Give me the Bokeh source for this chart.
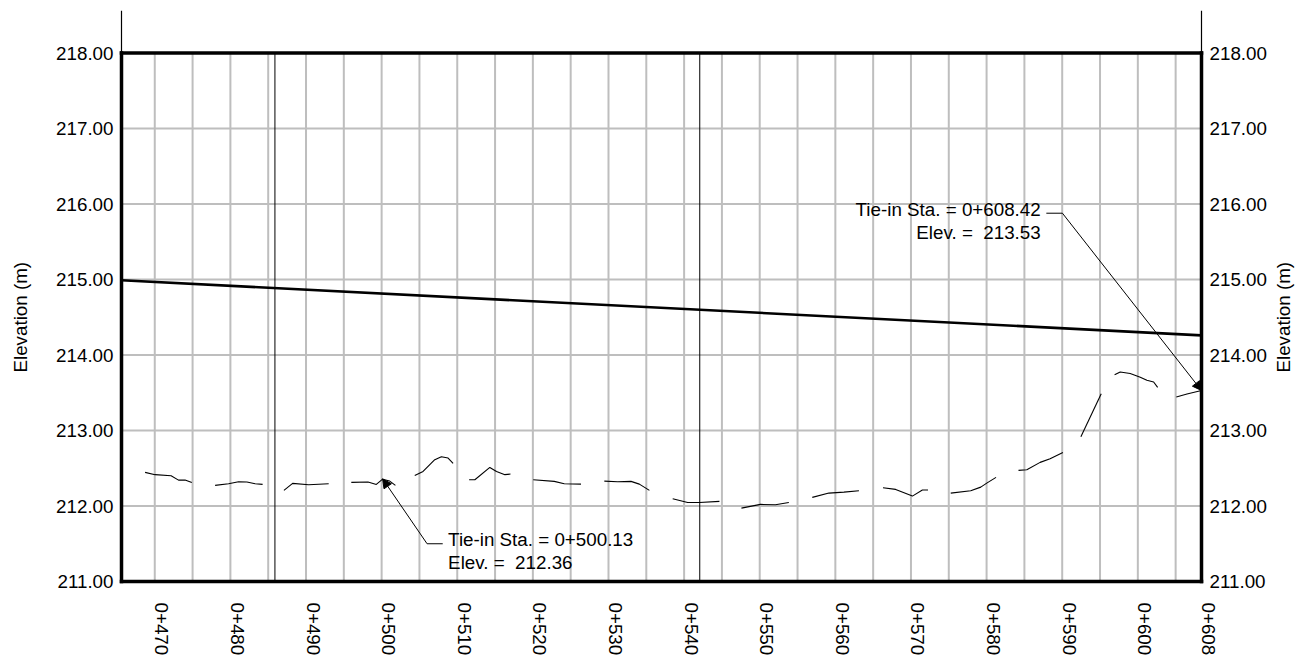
import math
from bokeh.plotting import figure
from bokeh.models import Range1d, FixedTicker, LinearAxis, Arrow, NormalHead
from bokeh.core.properties import value
from bokeh.embed import file_html
from bokeh.resources import INLINE

# ---------------- data ----------------
view_start = 465.60
view_end = 608.42
elev_min = 211.0
elev_max = 218.0

station_ticks = [470, 480, 490, 500, 510, 520, 530, 540, 550, 560, 570, 580, 590, 600, 608.42]
station_tick_labels = ["0+470", "0+480", "0+490", "0+500", "0+510", "0+520", "0+530",
                       "0+540", "0+550", "0+560", "0+570", "0+580", "0+590", "0+600", "0+608"]
elev_ticks = [211, 212, 213, 214, 215, 216, 217, 218]
elev_tick_labels = ["211.00", "212.00", "213.00", "214.00", "215.00", "216.00", "217.00", "218.00"]
grid_stations = [470, 475, 480, 485, 490, 495, 500, 505, 510, 515, 520, 525, 530, 535,
                 540, 545, 550, 555, 560, 565, 570, 575, 580, 585, 590, 595, 600, 605]
marker_stations = [485.89, 542.07]

design_sta = [465.60, 608.42]
design_elev = [214.99, 214.26]

# existing ground profile, as the visible pieces of its dashed line
ground_sta = [
    [468.72, 470.04, 472.16, 473.14, 474.01, 474.90],
    [477.98, 479.76, 481.08, 482.18, 483.28, 484.26],
    [487.08, 488.23, 490.35, 493.00],
    [495.99, 498.20, 499.30, 500.13, 501.07, 501.82],
    [504.38, 505.48, 507.03, 507.90, 508.79, 509.45],
    [511.57, 512.33, 514.31, 515.19, 516.30, 517.04],
    [520.05, 522.83, 524.15, 526.36],
    [529.45, 531.21, 532.98, 534.08, 535.41],
    [538.49, 540.47, 542.02, 544.67],
    [547.58, 550.10, 552.08, 553.85],
    [556.95, 559.15, 561.13, 563.12],
    [566.30, 567.98, 570.19, 571.51, 572.26],
    [575.26, 577.90, 579.23, 580.02, 581.25],
    [584.22, 585.32, 587.08, 588.40, 590.09],
    [592.47, 595.16],
    [596.93, 597.67, 598.99, 600.32, 601.20, 602.09, 602.62],
    [605.09, 606.50, 608.42],
]
ground_elev = [
    [212.445, 212.415, 212.400, 212.343, 212.343, 212.310],
    [212.273, 212.295, 212.322, 212.317, 212.295, 212.286],
    [212.207, 212.300, 212.282, 212.295],
    [212.313, 212.317, 212.286, 212.355, 212.330, 212.273],
    [212.405, 212.458, 212.613, 212.653, 212.635, 212.565],
    [212.348, 212.348, 212.511, 212.458, 212.415, 212.423],
    [212.348, 212.326, 212.295, 212.290],
    [212.330, 212.322, 212.326, 212.290, 212.207],
    [212.097, 212.047, 212.047, 212.061],
    [211.972, 212.021, 212.017, 212.047],
    [212.114, 212.171, 212.184, 212.203],
    [212.242, 212.220, 212.131, 212.211, 212.211],
    [212.171, 212.203, 212.250, 212.303, 212.379],
    [212.472, 212.481, 212.578, 212.627, 212.710],
    [212.918, 213.488],
    [213.740, 213.775, 213.754, 213.705, 213.665, 213.642, 213.572],
    [213.443, 213.483, 213.530],
]

tie_in_sta = [500.13, 608.42]
tie_in_elev = [212.36, 213.53]
tie_in_sta_labels = ["0+500.13", "0+608.42"]
tie_in_elev_labels = ["212.36", "213.53"]

# ---------------- layout / styling ----------------
FONT = "Liberation Sans"
FS = "18.8px"
GRID = "#bebebe"
W, H = 1297, 660
VIEW_LEFT_PX = 121          # page x of the view's left edge
VIEW_W_PX = 1080            # pixel width of the profile view
VIEW_TOP_PX = 52.5          # page y of elevation 218
PX_PER_ELEV = 75.5
TOP_BORDER, BOTTOM_BORDER = 10, 67

px_per_m = VIEW_W_PX / (view_end - view_start)
frame_start = view_start - VIEW_LEFT_PX / px_per_m
frame_end = view_start + (W - VIEW_LEFT_PX) / px_per_m
frame_h = H - TOP_BORDER - BOTTOM_BORDER
y_top = elev_max + (VIEW_TOP_PX - TOP_BORDER) / PX_PER_ELEV
y_bottom = y_top - frame_h / PX_PER_ELEV
label_shift = 7 / px_per_m

p = figure(width=W, height=H,
           x_range=Range1d(frame_start, frame_end),
           y_range=Range1d(y_bottom, y_top),
           x_axis_location=None, y_axis_location=None,
           output_backend="svg", toolbar_location=None,
           min_border_left=0, min_border_right=0,
           min_border_top=TOP_BORDER, min_border_bottom=BOTTOM_BORDER)
p.outline_line_color = None
p.background_fill_color = "white"
p.border_fill_color = "white"
p.xgrid.visible = False
p.ygrid.visible = False

# bottom station labels (own range, a few pixels right of each line)
p.extra_x_ranges = {"lbl": Range1d(frame_start - label_shift, frame_end - label_shift)}
xl = LinearAxis(x_range_name="lbl")
xl.ticker = FixedTicker(ticks=station_ticks)
xl.major_label_overrides = {t: s for t, s in zip(station_ticks, station_tick_labels)}
xl.bounds = (view_start, view_end)
xl.major_label_orientation = "vertical"
xl.axis_line_color = None
xl.major_tick_line_color = None
xl.minor_tick_line_color = None
xl.major_tick_out = 0
xl.major_tick_in = 0
xl.major_label_standoff = 9
xl.major_label_text_font = FONT
xl.major_label_text_font_size = FS
xl.major_label_text_color = "black"
p.add_layout(xl, "below")

# grid lines, limited to the profile view
p.segment(x0=[view_start] * len(elev_ticks), y0=elev_ticks,
          x1=[view_end] * len(elev_ticks), y1=elev_ticks,
          line_color=GRID, line_width=2)
p.segment(x0=grid_stations, y0=[elev_min] * len(grid_stations),
          x1=grid_stations, y1=[elev_max] * len(grid_stations),
          line_color=GRID, line_width=2)

# thin extensions above the view
p.segment(x0=[view_start, view_end], y0=[elev_max, elev_max],
          x1=[view_start, view_end], y1=[y_top, y_top],
          line_color="black", line_width=1.2)

# view border
p.segment(x0=[view_start, view_end, view_start, view_start],
          y0=[elev_min, elev_min, elev_max, elev_min],
          x1=[view_start, view_end, view_end, view_end],
          y1=[elev_max, elev_max, elev_max, elev_min],
          line_color="black", line_width=3.5, line_cap="square")

# elevation labels, both sides, and titles
lab_kw = dict(text_font=value(FONT), text_font_size=FS, text_color="black",
              text_baseline="middle")
p.text(x=[view_start] * len(elev_ticks), y=elev_ticks, text=elev_tick_labels,
       x_offset=-8, text_align="right", **lab_kw)
p.text(x=[view_end] * len(elev_ticks), y=elev_ticks, text=elev_tick_labels,
       x_offset=8, text_align="left", **lab_kw)
mid_elev = (elev_min + elev_max) / 2
p.text(x=[view_start], y=[mid_elev], text=["Elevation (m)"], angle=math.pi / 2,
       x_offset=-101, text_align="center", **lab_kw)
p.text(x=[view_end], y=[mid_elev], text=["Elevation (m)"], angle=math.pi / 2,
       x_offset=82, text_align="center", **lab_kw)

# thin vertical station lines
p.segment(x0=marker_stations, y0=[elev_min] * len(marker_stations),
          x1=marker_stations, y1=[elev_max] * len(marker_stations),
          line_color="black", line_width=1)

# design profile
p.line(design_sta, design_elev, line_color="black", line_width=2.6)

# existing ground (dashed pieces)
p.multi_line(ground_sta, ground_elev, line_color="black", line_width=1.1)

# annotations
txt_kw = dict(text_font=value(FONT), text_font_size=FS, text_color="black",
              text_baseline="alphabetic")
p.text(x=[508.79, 508.79], y=[211.553, 211.256],
       text=["Tie-in Sta. = " + tie_in_sta_labels[0],
             "Elev. =\u00a0 " + tie_in_elev_labels[0]],
       text_align="left", **txt_kw)
p.text(x=[587.16, 587.16], y=[215.923, 215.626],
       text=["Tie-in Sta. = " + tie_in_sta_labels[1],
             "Elev. =\u00a0 " + tie_in_elev_labels[1]],
       text_align="right", **txt_kw)

# leaders
p.line([506.01, 508.08], [211.50, 211.50], line_color="black", line_width=1)
p.add_layout(Arrow(end=NormalHead(size=9, fill_color="black", line_color="black", line_width=1),
                   x_start=506.01, y_start=211.50, x_end=tie_in_sta[0], y_end=tie_in_elev[0],
                   line_color="black", line_width=1))
p.line([587.90, 590.03], [215.878, 215.878], line_color="black", line_width=1)
p.add_layout(Arrow(end=NormalHead(size=9, fill_color="black", line_color="black", line_width=1),
                   x_start=590.03, y_start=215.878, x_end=tie_in_sta[1], y_end=tie_in_elev[1],
                   line_color="black", line_width=1))

open("out.html", "w").write(file_html(p, INLINE))
